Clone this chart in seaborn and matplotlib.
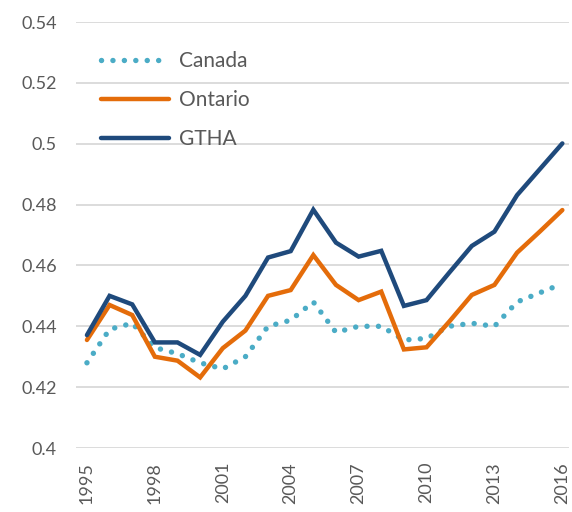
import pandas as pd
import seaborn as sns
import matplotlib.pyplot as plt

# values
years = list(range(1995, 2017))
canada = [0.428, 0.439, 0.441, 0.433, 0.431, 0.428, 0.426, 0.430, 0.440, 0.442,
          0.448, 0.438, 0.440, 0.440, 0.4355, 0.436, 0.440, 0.441, 0.440, 0.448,
          0.451, 0.454]
ontario = [0.4355, 0.447, 0.4437, 0.430, 0.4287, 0.4232, 0.4328, 0.4386, 0.450, 0.4519,
           0.4634, 0.4536, 0.4486, 0.4514, 0.4324, 0.4331, 0.4415, 0.4503, 0.4536, 0.4642,
           0.4711, 0.4782]
gtha = [0.4371, 0.450, 0.4472, 0.4347, 0.4347, 0.4306, 0.4415, 0.450, 0.4626, 0.4647,
        0.4783, 0.4675, 0.4629, 0.4648, 0.4467, 0.4486, 0.4576, 0.4664, 0.4711, 0.4831,
        0.4916, 0.5001]
series_names = ['Canada', 'Ontario', 'GTHA']
colors = {'Canada': '#4BACC6', 'Ontario': '#E46C0A', 'GTHA': '#1F4A7C'}
y_ticks = [0.4, 0.42, 0.44, 0.46, 0.48, 0.5, 0.52, 0.54]
x_ticks = [1995, 1998, 2001, 2004, 2007, 2010, 2013, 2016]

df = pd.DataFrame({'Year': years, 'Canada': canada, 'Ontario': ontario, 'GTHA': gtha})
long_df = df.melt(id_vars='Year', var_name='Region', value_name='Value')

sns.set_theme(style="white")
plt.rcParams['font.family'] = ['Lato', 'DejaVu Sans']

fig = plt.figure(figsize=(5.72, 5.12), dpi=100)
ax = fig.add_axes([0.133, 0.125, 0.862, 0.832])

ax.set_yticks(y_ticks)
ax.grid(axis='y', color='#D9D9D9', linewidth=1.3)
ax.set_axisbelow(True)

sns.lineplot(data=long_df, x='Year', y='Value', hue='Region', style='Region',
             hue_order=series_names, style_order=series_names,
             palette=colors, dashes={'Canada': (0.01, 2.1), 'Ontario': '', 'GTHA': ''},
             linewidth=3.2, legend=False, ax=ax)

for line in ax.lines:
    line.set_dash_capstyle('round')
    line.set_solid_capstyle('round')
    line.set_solid_joinstyle('miter')
ax.lines[0].set_linewidth(3.9)

ax.set_xlim(1994.52, 2016.3)
ax.set_ylim(0.4, 0.54)
ax.set_xticks(x_ticks)
ax.set_xticklabels([str(x) for x in x_ticks], rotation=90)
ax.set_yticklabels([f"{v:g}" for v in y_ticks])
ax.tick_params(axis='both', colors='#595959', labelsize=13, length=0)
ax.tick_params(axis='x', pad=10)
ax.tick_params(axis='y', pad=14)
ax.set_xlabel('')
ax.set_ylabel('')
sns.despine(left=True, bottom=True)

leg = ax.legend(ax.lines[:3], series_names, loc='upper left',
                bbox_to_anchor=(0.012, 0.975), frameon=False, fontsize=15,
                handlelength=3.27, handletextpad=0.48, labelspacing=0.9)
for text in leg.get_texts():
    text.set_color('#595959')

plt.savefig('out.png', dpi=100)
